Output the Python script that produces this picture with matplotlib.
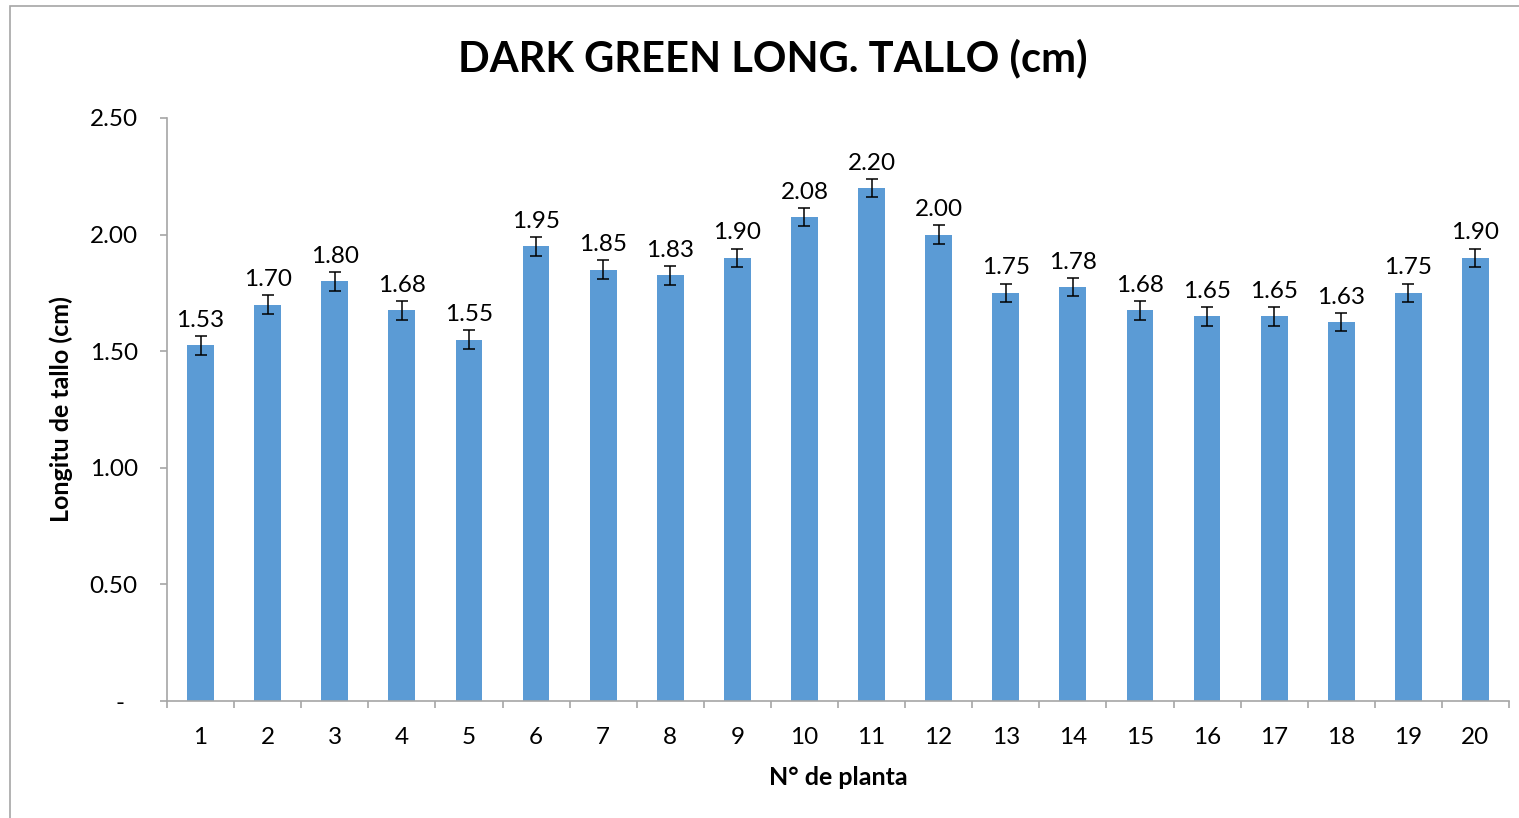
import matplotlib
matplotlib.use("Agg")
import matplotlib.pyplot as plt
from matplotlib.patches import Rectangle
from decimal import Decimal, ROUND_HALF_UP
import numpy as np

plants = [str(i) for i in range(1, 21)]
lengths = [1.525, 1.70, 1.80, 1.675, 1.55, 1.95, 1.85, 1.825, 1.90, 2.075,
           2.20, 2.00, 1.75, 1.775, 1.675, 1.65, 1.65, 1.625, 1.75, 1.90]
errors = [0.04] * 20
yticks = [0, 0.5, 1.0, 1.5, 2.0, 2.5]
ytick_labels = ["-  ", "0.50", "1.00", "1.50", "2.00", "2.50"]


def fmt(v):
    return str(Decimal(str(v)).quantize(Decimal("0.01"), rounding=ROUND_HALF_UP))


plt.rcParams['font.family'] = ['Lato', 'DejaVu Sans']

W, H = 1519, 818
fig = plt.figure(figsize=(W / 100, H / 100), dpi=100)
ax = fig.add_axes([167 / W, 1 - 701 / H, (1509 - 167) / W, (701 - 118) / H])

fig.patches.append(Rectangle((10 / W, -0.1), 1.2, 1.1 - 6 / H,
                             transform=fig.transFigure, fill=False,
                             edgecolor='#a6a6a6', linewidth=1.2))

x = np.arange(len(plants))
ax.bar(x, lengths, width=0.4, color='#5b9bd5', zorder=2)
ax.errorbar(x, lengths, yerr=errors, fmt='none', ecolor='black',
            elinewidth=1.1, capsize=4.3, capthick=1.1, zorder=3)
for xi, v, e in zip(x, lengths, errors):
    ax.text(xi, v + e + 0.022, fmt(v), ha='center', va='bottom', fontsize=17.5)

ax.set_xlim(-0.5, len(plants) - 0.5)
ax.set_ylim(0, 2.5)
ax.set_yticks(yticks)
ax.set_yticklabels(ytick_labels, fontsize=17.5)
ax.set_xticks(x)
ax.set_xticklabels(plants, fontsize=17.5)
ax.set_xticks(np.arange(-0.5, len(plants)), minor=True)
ax.tick_params(axis='x', which='major', length=0, pad=19)
ax.tick_params(axis='x', which='minor', length=5, color='#a6a6a6', width=1.2)
ax.tick_params(axis='y', length=5, color='#a6a6a6', width=1.2, pad=16)
for s in ['top', 'right']:
    ax.spines[s].set_visible(False)
for s in ['left', 'bottom']:
    ax.spines[s].set_color('#a6a6a6')
    ax.spines[s].set_linewidth(1.2)

ax.set_xlabel("N° de planta", fontsize=18, fontweight='bold', labelpad=13)
ax.set_ylabel("Longitu de tallo (cm)", fontsize=18, fontweight='bold', labelpad=12)
fig.text(773 / W, 1 - 58 / H, "DARK GREEN LONG. TALLO (cm)", ha='center',
         va='center', fontsize=30, fontweight='bold')

fig.savefig("out.png", dpi=100)
